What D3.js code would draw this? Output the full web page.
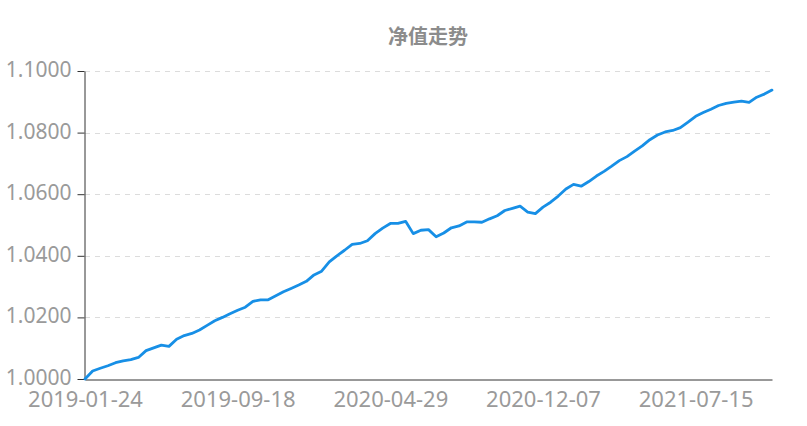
<!DOCTYPE html>
<meta charset="utf-8">
<style>
body {
  margin: 0;
  background: #fff;
  font-family: "Noto Sans", "Noto Sans CJK SC", sans-serif;
}
.title {
  font-family: "Noto Sans CJK SC", sans-serif;
  font-size: 20px;
  font-weight: bold;
  fill: #8c8c8c;
}
.axis text {
  font-family: "Noto Sans", sans-serif;
  font-size: 22px;
  fill: #9a9a9a;
}
.axis.y text {
  font-size: 21px;
}
.axis path, .axis line {
  stroke: #333;
}
.grid line {
  stroke: #dcdcdc;
  stroke-dasharray: 5, 5;
}
</style>
<body>
<script src="https://cdn.jsdelivr.net/npm/d3@7"></script>
<script>

var width = 807,
    height = 426;

var margin = {top: 71, right: 35, bottom: 47, left: 85};

// 净值 values, one per sampled trading day
var navValues = [
  1.0000, 1.0026, 1.0035, 1.0043, 1.0053, 1.0059, 1.0063, 1.0070, 1.0092, 1.0101,
  1.0110, 1.0106, 1.0129, 1.0141, 1.0148, 1.0159, 1.0174, 1.0189, 1.0200, 1.0212,
  1.0223, 1.0233, 1.0252, 1.0257, 1.0257, 1.0270, 1.0283, 1.0294, 1.0305, 1.0317,
  1.0338, 1.0350, 1.0380, 1.0400, 1.0418, 1.0437, 1.0440, 1.0449, 1.0472, 1.0490,
  1.0505, 1.0505, 1.0512, 1.0472, 1.0483, 1.0485, 1.0462, 1.0474, 1.0491, 1.0497,
  1.0510, 1.0510, 1.0509, 1.0520, 1.0530, 1.0547, 1.0554, 1.0561, 1.0542, 1.0537,
  1.0558, 1.0574, 1.0594, 1.0617, 1.0632, 1.0626, 1.0641, 1.0659, 1.0674, 1.0691,
  1.0709, 1.0722, 1.0740, 1.0757, 1.0777, 1.0792, 1.0802, 1.0807, 1.0816, 1.0834,
  1.0853, 1.0865, 1.0876, 1.0888, 1.0895, 1.0899, 1.0902, 1.0898, 1.0915, 1.0925,
  1.0938
];

// date labels shown on the x axis, and the sample index each sits on
var tickDates = ["2019-01-24", "2019-09-18", "2020-04-29", "2020-12-07", "2021-07-15"];
var tickIndex = [0, 20, 40, 60, 80];

var yTicks = [1.00, 1.02, 1.04, 1.06, 1.08, 1.10];

var svg = d3.select("body").append("svg")
    .attr("width", width)
    .attr("height", height);

var x = d3.scaleLinear()
    .domain([0, navValues.length - 1])
    .range([margin.left, width - margin.right]);

var y = d3.scaleLinear()
    .domain([1.0, 1.1])
    .range([height - margin.bottom, margin.top]);

// title
svg.append("text")
    .attr("class", "title")
    .attr("x", 428)
    .attr("y", 44)
    .attr("text-anchor", "middle")
    .text("净值走势");

// dashed grid
svg.append("g")
    .attr("class", "grid")
  .selectAll("line")
  .data(yTicks.slice(1))
  .enter().append("line")
    .attr("x1", margin.left)
    .attr("x2", width - margin.right)
    .attr("y1", function(d) { return Math.round(y(d)) + 0.5; })
    .attr("y2", function(d) { return Math.round(y(d)) + 0.5; });

// y axis
var yAxis = svg.append("g")
    .attr("class", "axis y")
    .attr("transform", "translate(" + (margin.left - 0.5) + ",0)")
    .call(d3.axisLeft(y)
      .tickValues(yTicks)
      .tickFormat(d3.format(".4f"))
      .tickSize(7)
      .tickPadding(6)
      .tickSizeOuter(0));
yAxis.selectAll("text").attr("dy", "0.26em");

// x axis
var xAxis = svg.append("g")
    .attr("class", "axis x")
    .attr("transform", "translate(0," + (height - margin.bottom + 0.5) + ")")
    .call(d3.axisBottom(x)
      .tickValues(tickIndex)
      .tickFormat(function(d, i) { return tickDates[i]; })
      .tickSize(0)
      .tickPadding(12)
      .tickSizeOuter(0));

// net value line
var line = d3.line()
    .x(function(d, i) { return x(i); })
    .y(function(d) { return y(d); });

svg.append("path")
    .datum(navValues)
    .attr("fill", "none")
    .attr("stroke", "#178fe6")
    .attr("stroke-width", 2.8)
    .attr("stroke-linejoin", "round")
    .attr("stroke-linecap", "round")
    .attr("d", line);

</script>
